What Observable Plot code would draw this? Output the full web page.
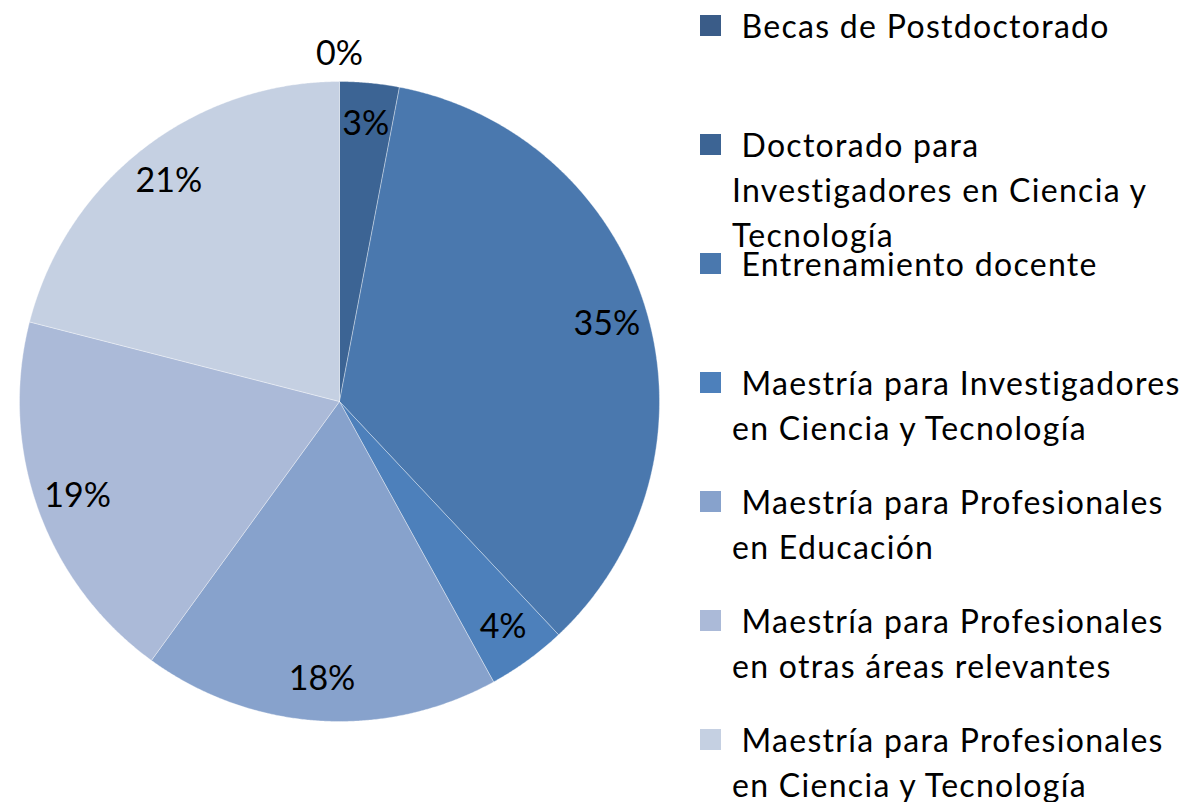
<!DOCTYPE html>
<html>
<head>
<meta charset="utf-8">
<script src="https://cdn.jsdelivr.net/npm/d3@7"></script>
<script src="https://cdn.jsdelivr.net/npm/@observablehq/plot@0.6"></script>
<style>
  html, body { margin: 0; padding: 0; background: #fff; }
  #wrap { position: relative; width: 1188px; height: 802px; overflow: hidden; font-family: Lato, "Open Sans", sans-serif; }
  #legend { position: absolute; left: 0; top: 0; width: 1188px; height: 802px; pointer-events: none; }
  .item { position: absolute; left: 700px; }
  .sw { position: absolute; left: 0; width: 21px; height: 21px; }
  .ln { position: absolute; left: 32px; white-space: pre; font-size: 32px; line-height: 45px; letter-spacing: 1.3px; color: #000; }
</style>
</head>
<body>
<div id="wrap"><div id="legend"></div></div>
<script>
const categories = [
  "Becas de Postdoctorado",
  "Doctorado para Investigadores en Ciencia y Tecnología",
  "Entrenamiento docente",
  "Maestría para Investigadores en Ciencia y Tecnología",
  "Maestría para Profesionales en Educación",
  "Maestría para Profesionales en otras áreas relevantes",
  "Maestría para Profesionales en Ciencia y Tecnología"
];
const legendLines = [
  [" Becas de Postdoctorado"],
  [" Doctorado para", "Investigadores en Ciencia y", "Tecnología"],
  [" Entrenamiento docente"],
  [" Maestría para Investigadores", "en Ciencia y Tecnología"],
  [" Maestría para Profesionales", "en Educación"],
  [" Maestría para Profesionales", "en otras áreas relevantes"],
  [" Maestría para Profesionales", "en Ciencia y Tecnología"]
];
const values = [0, 3, 35, 4, 18, 19, 21];
const colors = ["#3a5c88", "#3c6494", "#4a78ae", "#4d80bb", "#87a2cc", "#abbad8", "#c5d0e2"];

const total = d3.sum(values);
const slices = [];
const labels = [];
let acc = 0;
values.forEach((v, i) => {
  const a0 = acc / total * 2 * Math.PI;
  acc += v;
  const a1 = acc / total * 2 * Math.PI;
  if (v > 0) {
    slices.push({category: categories[i], x: 0, y: 0});
    const n = Math.max(2, Math.ceil((a1 - a0) / 0.005));
    for (let k = 0; k <= n; k++) {
      const a = a0 + (a1 - a0) * k / n;
      slices.push({category: categories[i], x: Math.sin(a), y: Math.cos(a)});
    }
    slices.push({category: categories[i], x: 0, y: 0});
  }
  const am = (a0 + a1) / 2;
  const r = v > 0 ? 0.87 : 1.085;
  labels.push({x: r * Math.sin(am), y: r * Math.cos(am), text: Math.round(v / total * 100) + "%"});
});

const chart = Plot.plot({
  width: 1188,
  height: 802,
  marginLeft: 19,
  marginRight: 529,
  marginTop: 81,
  marginBottom: 81,
  x: {domain: [-1, 1], axis: null},
  y: {domain: [-1, 1], axis: null},
  color: {domain: categories, range: colors},
  style: {fontFamily: "Lato, 'Open Sans', sans-serif", background: "white"},
  marks: [
    Plot.line(slices, {x: "x", y: "y", z: "category", fill: "category", stroke: "white", strokeWidth: 0.7, strokeOpacity: 0.5, curve: "linear"}),
    Plot.text(labels, {x: "x", y: "y", text: "text", fontSize: 34, fill: "black"})
  ]
});
const wrap = document.getElementById("wrap");
wrap.insertBefore(chart, wrap.firstChild);

const legend = document.getElementById("legend");
legendLines.forEach((lines, i) => {
  const item = document.createElement("div");
  item.className = "item";
  item.style.top = (36 + 119 * i) + "px";
  const sw = document.createElement("div");
  sw.className = "sw";
  sw.style.top = "-21px";
  sw.style.background = colors[i];
  item.appendChild(sw);
  lines.forEach((t, j) => {
    const ln = document.createElement("div");
    ln.className = "ln";
    ln.textContent = t;
    ln.style.top = (-33 + 45 * j) + "px";
    item.appendChild(ln);
  });
  legend.appendChild(item);
});
</script>
</body>
</html>
